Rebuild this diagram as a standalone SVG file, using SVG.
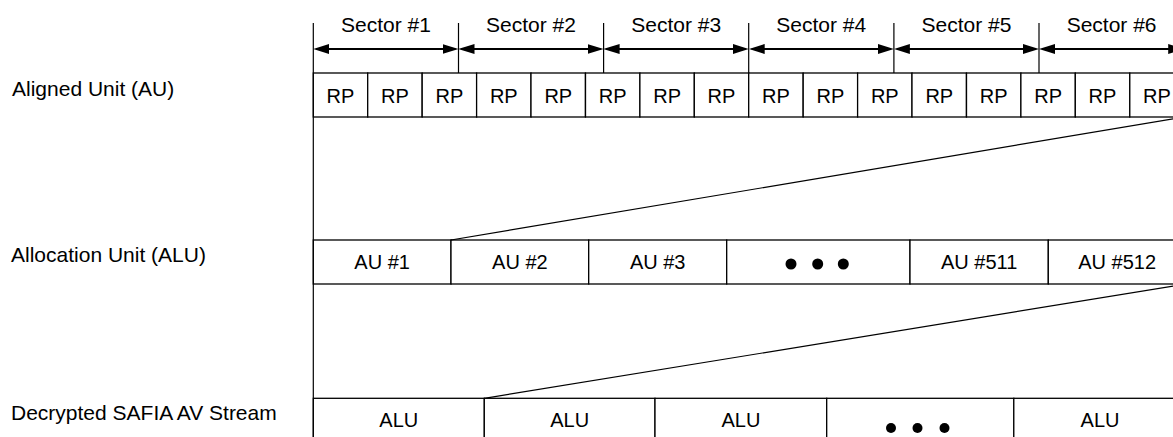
<svg xmlns="http://www.w3.org/2000/svg" width="1173" height="437" viewBox="0 0 1173 437">
  <style>
    .cell { fill: #fff; stroke: #000; stroke-width: 1.3; }
    .edge { fill: none; stroke: #000; stroke-width: 1.2; }
    .dim { fill: none; stroke: #000; stroke-width: 2.2; }
    .lbl { font-family: "Liberation Sans", Arial, sans-serif; font-size: 21px; fill: #000; }
    .sec { font-family: "Liberation Sans", Arial, sans-serif; font-size: 21px; fill: #000; text-anchor: middle; }
    .t { font-family: "Liberation Sans", Arial, sans-serif; font-size: 20px; fill: #000; text-anchor: middle; }
    .dot { fill: #000; }
  </style>
  <defs>
    <marker id="head" markerUnits="userSpaceOnUse" markerWidth="16" markerHeight="11" viewBox="0 0 16 11" refX="13" refY="5.5" orient="auto-start-reverse">
      <path d="M0,0.5 L16,5.5 L0,10.5 z" fill="#000"/>
    </marker>
  </defs>

  <rect width="1173" height="437" fill="#fff"/>

  <!-- row captions -->
  <g id="label-au"><text class="lbl" x="12" y="96">Aligned Unit (AU)</text></g>
  <g id="label-alu"><text class="lbl" x="11" y="262">Allocation Unit (ALU)</text></g>
  <g id="label-stream"><text class="lbl" x="11" y="420">Decrypted SAFIA AV Stream</text></g>

  <!-- sector ruler -->
  <g id="sector-1"><text class="sec" x="385.9" y="32">Sector #1</text></g>
  <g id="sector-2"><text class="sec" x="531.0" y="32">Sector #2</text></g>
  <g id="sector-3"><text class="sec" x="676.2" y="32">Sector #3</text></g>
  <g id="sector-4"><text class="sec" x="821.3" y="32">Sector #4</text></g>
  <g id="sector-5"><text class="sec" x="966.5" y="32">Sector #5</text></g>
  <g id="sector-6"><text class="sec" x="1111.6" y="32">Sector #6</text></g>

  <!-- Aligned Unit: 16 RP cells -->
  <g id="rp-1"><rect class="cell" x="313.3" y="73" width="54.43" height="44"/><text class="t" x="340.5" y="103">RP</text></g>
  <g id="rp-2"><rect class="cell" x="367.7" y="73" width="54.43" height="44"/><text class="t" x="394.9" y="103">RP</text></g>
  <g id="rp-3"><rect class="cell" x="422.2" y="73" width="54.43" height="44"/><text class="t" x="449.4" y="103">RP</text></g>
  <g id="rp-4"><rect class="cell" x="476.6" y="73" width="54.43" height="44"/><text class="t" x="503.8" y="103">RP</text></g>
  <g id="rp-5"><rect class="cell" x="531.0" y="73" width="54.43" height="44"/><text class="t" x="558.3" y="103">RP</text></g>
  <g id="rp-6"><rect class="cell" x="585.5" y="73" width="54.43" height="44"/><text class="t" x="612.7" y="103">RP</text></g>
  <g id="rp-7"><rect class="cell" x="639.9" y="73" width="54.43" height="44"/><text class="t" x="667.1" y="103">RP</text></g>
  <g id="rp-8"><rect class="cell" x="694.3" y="73" width="54.43" height="44"/><text class="t" x="721.5" y="103">RP</text></g>
  <g id="rp-9"><rect class="cell" x="748.7" y="73" width="54.43" height="44"/><text class="t" x="776.0" y="103">RP</text></g>
  <g id="rp-10"><rect class="cell" x="803.2" y="73" width="54.43" height="44"/><text class="t" x="830.4" y="103">RP</text></g>
  <g id="rp-11"><rect class="cell" x="857.6" y="73" width="54.43" height="44"/><text class="t" x="884.8" y="103">RP</text></g>
  <g id="rp-12"><rect class="cell" x="912.0" y="73" width="54.43" height="44"/><text class="t" x="939.3" y="103">RP</text></g>
  <g id="rp-13"><rect class="cell" x="966.5" y="73" width="54.43" height="44"/><text class="t" x="993.7" y="103">RP</text></g>
  <g id="rp-14"><rect class="cell" x="1020.9" y="73" width="54.43" height="44"/><text class="t" x="1048.1" y="103">RP</text></g>
  <g id="rp-15"><rect class="cell" x="1075.3" y="73" width="54.43" height="44"/><text class="t" x="1102.5" y="103">RP</text></g>
  <g id="rp-16"><rect class="cell" x="1129.8" y="73" width="54.43" height="44"/><text class="t" x="1157.0" y="103">RP</text></g>

  <!-- Allocation Unit: AU cells -->
  <g id="au-1"><rect class="cell" x="313.3" y="240" width="137.7" height="44"/><text class="t" x="382.1" y="268.5">AU #1</text></g>
  <g id="au-2"><rect class="cell" x="451" y="240" width="137.7" height="44"/><text class="t" x="519.9" y="268.5">AU #2</text></g>
  <g id="au-3"><rect class="cell" x="588.7" y="240" width="138" height="44"/><text class="t" x="657.7" y="268.5">AU #3</text></g>
  <g id="au-more"><rect class="cell" x="726.7" y="240" width="183.3" height="44"/>
    <circle class="dot" cx="791" cy="264" r="5.5"/><circle class="dot" cx="817.7" cy="264" r="5.5"/><circle class="dot" cx="843.3" cy="264" r="5.5"/></g>
  <g id="au-511"><rect class="cell" x="910" y="240" width="138.3" height="44"/><text class="t" x="979.2" y="268.5">AU #511</text></g>
  <g id="au-512"><rect class="cell" x="1048.3" y="240" width="137.7" height="44"/><text class="t" x="1117.2" y="268.5">AU #512</text></g>

  <!-- Decrypted stream: ALU cells -->
  <g id="alu-1"><rect class="cell" x="313.3" y="398.3" width="171" height="50"/><text class="t" x="398.8" y="427">ALU</text></g>
  <g id="alu-2"><rect class="cell" x="484.3" y="398.3" width="170.7" height="50"/><text class="t" x="569.7" y="427">ALU</text></g>
  <g id="alu-3"><rect class="cell" x="655" y="398.3" width="171.7" height="50"/><text class="t" x="740.9" y="427">ALU</text></g>
  <g id="alu-more"><rect class="cell" x="826.7" y="398.3" width="187.1" height="50"/>
    <circle class="dot" cx="891" cy="428" r="5"/><circle class="dot" cx="917.5" cy="428" r="5"/><circle class="dot" cx="944.5" cy="428" r="5"/></g>
  <g id="alu-n"><rect class="cell" x="1013.8" y="398.3" width="172.2" height="50"/><text class="t" x="1100" y="427">ALU</text></g>

  <!-- connectors: ruler ticks, sector spans, left datum line, expansion lines -->
  <g id="connectors">
    <line class="edge" x1="313.3" y1="23" x2="313.3" y2="437"/>
    <line class="edge" x1="458.5" y1="23" x2="458.5" y2="73"/>
    <line class="edge" x1="603.6" y1="23" x2="603.6" y2="73"/>
    <line class="edge" x1="748.7" y1="23" x2="748.7" y2="73"/>
    <line class="edge" x1="893.9" y1="23" x2="893.9" y2="73"/>
    <line class="edge" x1="1039.0" y1="23" x2="1039.0" y2="73"/>

    <line class="dim" x1="316.3" y1="49" x2="455.5" y2="49" marker-start="url(#head)" marker-end="url(#head)"/>
    <line class="dim" x1="461.5" y1="49" x2="600.6" y2="49" marker-start="url(#head)" marker-end="url(#head)"/>
    <line class="dim" x1="606.6" y1="49" x2="745.7" y2="49" marker-start="url(#head)" marker-end="url(#head)"/>
    <line class="dim" x1="751.7" y1="49" x2="890.9" y2="49" marker-start="url(#head)" marker-end="url(#head)"/>
    <line class="dim" x1="896.9" y1="49" x2="1036.0" y2="49" marker-start="url(#head)" marker-end="url(#head)"/>
    <line class="dim" x1="1042.0" y1="49" x2="1181.2" y2="49" marker-start="url(#head)" marker-end="url(#head)"/>

    <line class="edge" x1="451" y1="240" x2="1184.2" y2="117"/>
    <line class="edge" x1="484.3" y1="398.3" x2="1186" y2="284"/>
  </g>
</svg>
